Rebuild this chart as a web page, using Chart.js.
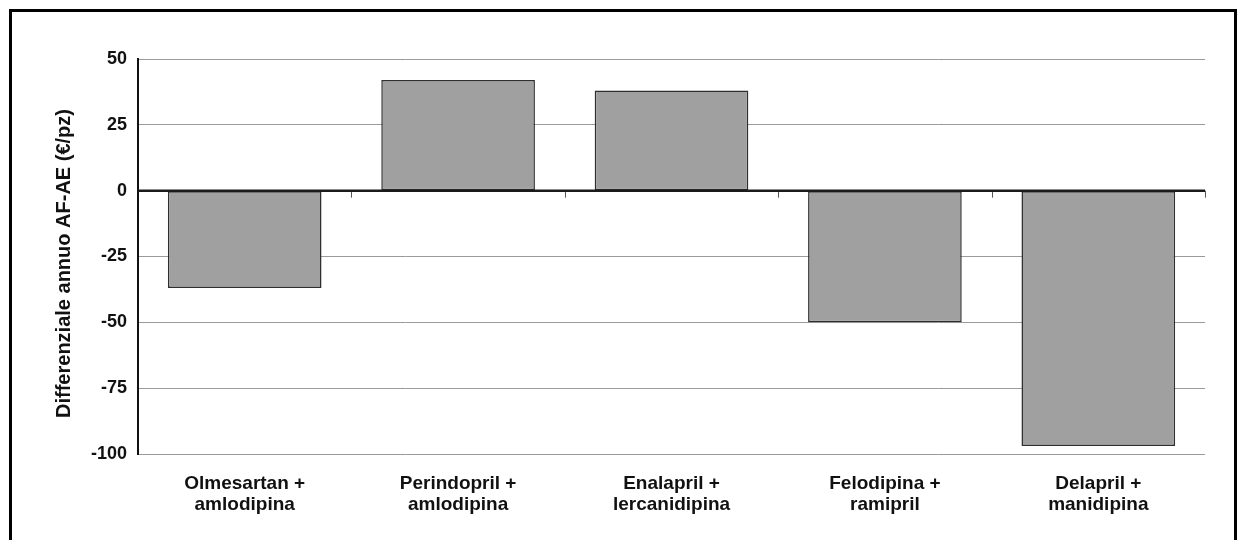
<!DOCTYPE html>
<html>
<head>
<meta charset="utf-8">
<script src="https://cdn.jsdelivr.net/npm/chart.js@4.4.1/dist/chart.umd.min.js"></script>
<style>
  html, body { margin: 0; padding: 0; background: #fff; }
  #wrap { position: relative; width: 1246px; height: 540px; overflow: hidden; }
  #frame { position: absolute; left: 9px; top: 9px; width: 1222px; height: 600px; border: 3px solid #000; pointer-events: none; }
  canvas { position: absolute; left: 0; top: 0; }
</style>
</head>
<body>
<div id="wrap">
  <canvas id="c" width="1246" height="540"></canvas>
  <div id="frame"></div>
</div>
<script>
const categories = [
  ["Olmesartan +", "amlodipina"],
  ["Perindopril +", "amlodipina"],
  ["Enalapril +", "lercanidipina"],
  ["Felodipina +", "ramipril"],
  ["Delapril +", "manidipina"]
];
const values = [-37, 42, 38, -50, -97];
const yTicks = [50, 25, 0, -25, -50, -75, -100];
const yTitle = "Differenziale annuo AF-AE (€/pz)";

const FONT = "'Liberation Sans', Arial, Helvetica, sans-serif";

const extras = {
  id: 'extras',
  afterDatasetsDraw(chart) {
    const { ctx, chartArea, scales } = chart;
    const x = scales.x, y = scales.y;
    const y0 = y.getPixelForValue(0);
    ctx.save();
    // boundary tick marks below zero line
    ctx.strokeStyle = '#555';
    ctx.lineWidth = 1;
    for (let i = 1; i <= categories.length; i++) {
      const px = Math.round(x.getPixelForValue(i - 0.5)) + 0.5;
      ctx.beginPath();
      ctx.moveTo(px, y0);
      ctx.lineTo(px, y0 + 7);
      ctx.stroke();
    }
    // zero line
    ctx.strokeStyle = '#1a1a1a';
    ctx.lineWidth = 2.5;
    ctx.beginPath();
    ctx.moveTo(chartArea.left, y0);
    ctx.lineTo(chartArea.right, y0);
    ctx.stroke();
    // y axis title
    ctx.translate(y.left + 24, (chartArea.top + chartArea.bottom) / 2 + 7);
    ctx.rotate(-Math.PI / 2);
    ctx.fillStyle = '#111';
    ctx.font = "bold 20px " + FONT;
    ctx.textAlign = 'center';
    ctx.textBaseline = 'middle';
    ctx.fillText(yTitle, 0, 0);
    ctx.restore();
  }
};

new Chart(document.getElementById('c'), {
  type: 'bar',
  data: {
    labels: categories,
    datasets: [{
      data: values,
      backgroundColor: '#a0a0a0',
      borderColor: '#2e2e2e',
      borderWidth: 1.5,
      borderSkipped: false,
      barPercentage: 0.72,
      categoryPercentage: 1.0
    }]
  },
  options: {
    responsive: false,
    animation: false,
    devicePixelRatio: 1,
    layout: { padding: { left: 40, top: 59, right: 41, bottom: 0 } },
    plugins: { legend: { display: false }, tooltip: { enabled: false } },
    scales: {
      x: {
        grid: { display: false, drawTicks: false },
        border: { display: false },
        ticks: {
          color: '#111',
          padding: 19,
          maxRotation: 0,
          autoSkip: false,
          font: { family: FONT, size: 19, weight: 'bold', lineHeight: 1.12 }
        },
        afterFit(scale) { scale.height = 86; }
      },
      y: {
        min: -100,
        max: 50,
        afterBuildTicks(scale) { scale.ticks = yTicks.map(v => ({ value: v })); },
        grid: {
          drawTicks: false,
          color: '#9a9a9a',
          lineWidth: 1
        },
        border: { display: true, color: '#111', width: 2 },
        ticks: {
          color: '#111',
          padding: 11,
          font: { family: FONT, size: 18, weight: 'bold' }
        },
        title: { display: false },
        afterFit(scale) { scale.width = 98; }
      }
    }
  },
  plugins: [extras]
});
</script>
</body>
</html>
